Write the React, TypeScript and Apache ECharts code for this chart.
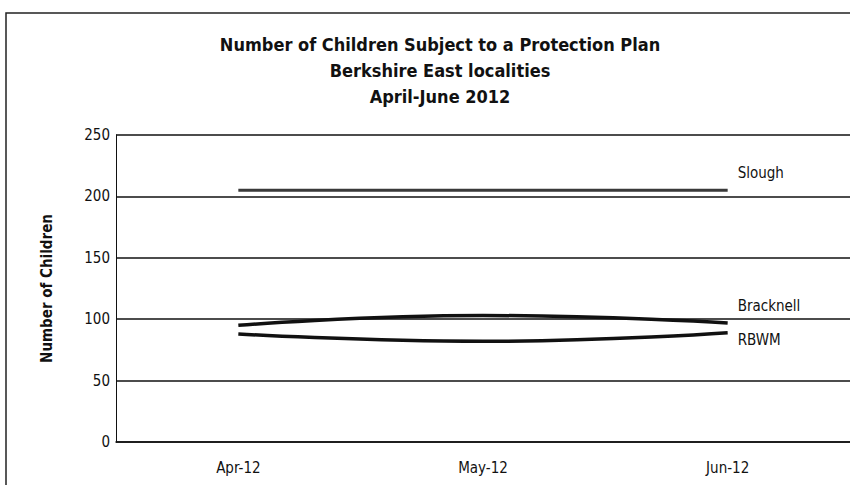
import React, { useEffect, useRef } from "react";
import * as echarts from "echarts";

const months = ["Apr-12", "May-12", "Jun-12"];
const slough = [205, 205, 205];
const bracknell = [95, 103, 97];
const rbwm = [88, 82, 89];
const yTicks = { min: 0, max: 250, interval: 50 };
const titleLines = [
  "Number of Children Subject to a Protection Plan",
  "Berkshire East localities",
  "April-June 2012",
];

const FONT = "'DejaVu Sans Condensed', 'Open Sans', sans-serif";

export default function App() {
  const ref = useRef<HTMLDivElement>(null);

  useEffect(() => {
    if (!ref.current) return;
    const chart = echarts.init(ref.current, undefined, { renderer: "svg" });

    const lineSeries = (name: string, data: number[], color: string, width: number, offset: number[]) => ({
      name,
      type: "line",
      data,
      smooth: true,
      showSymbol: false,
      symbol: "none",
      lineStyle: { color, width },
      endLabel: {
        show: true,
        formatter: "{a}",
        offset,
        color: "#111",
        fontFamily: FONT,
        fontSize: 15,
      },
    });

    chart.setOption({
      animation: false,
      backgroundColor: "#ffffff",
      textStyle: { fontFamily: FONT },
      title: {
        text: titleLines.join("\n"),
        left: 435,
        textAlign: "center",
        top: 26,
        textStyle: {
          fontFamily: FONT,
          fontSize: 18,
          fontWeight: "bold",
          color: "#111",
          lineHeight: 26,
        },
      },
      graphic: [
        {
          type: "rect",
          shape: { x: 6, y: 13, width: 900, height: 600 },
          style: { fill: "none", stroke: "#222", lineWidth: 1.5 },
          silent: true,
        },
      ],
      grid: { left: 116, right: -2, top: 135, bottom: 43 },
      xAxis: {
        type: "category",
        data: months,
        boundaryGap: true,
        axisLine: { show: true, lineStyle: { color: "#111", width: 1.5 } },
        axisTick: { show: false },
        axisLabel: { color: "#111", fontSize: 15, margin: 18, fontFamily: FONT },
      },
      yAxis: {
        type: "value",
        min: yTicks.min,
        max: yTicks.max,
        interval: yTicks.interval,
        name: "Number of Children",
        nameLocation: "middle",
        nameGap: 62,
        nameTextStyle: { color: "#111", fontSize: 15, fontWeight: "bold", fontFamily: FONT },
        axisLine: { show: true, lineStyle: { color: "#111", width: 1 } },
        axisTick: { show: false },
        axisLabel: { color: "#111", fontSize: 15, margin: 6, fontFamily: FONT },
        splitLine: { show: true, lineStyle: { color: "#111", width: 1.5 } },
      },
      series: [
        lineSeries("Slough", slough, "#3a3a3a", 3, [2, -17]),
        lineSeries("Bracknell", bracknell, "#111", 3.5, [2, -17]),
        lineSeries("RBWM", rbwm, "#111", 3.5, [2, 7]),
      ],
    });

    return () => chart.dispose();
  }, []);

  return (
    <div
      ref={ref}
      style={{ position: "fixed", left: 0, top: 0, width: 850, height: 485, background: "#fff" }}
    />
  );
}
